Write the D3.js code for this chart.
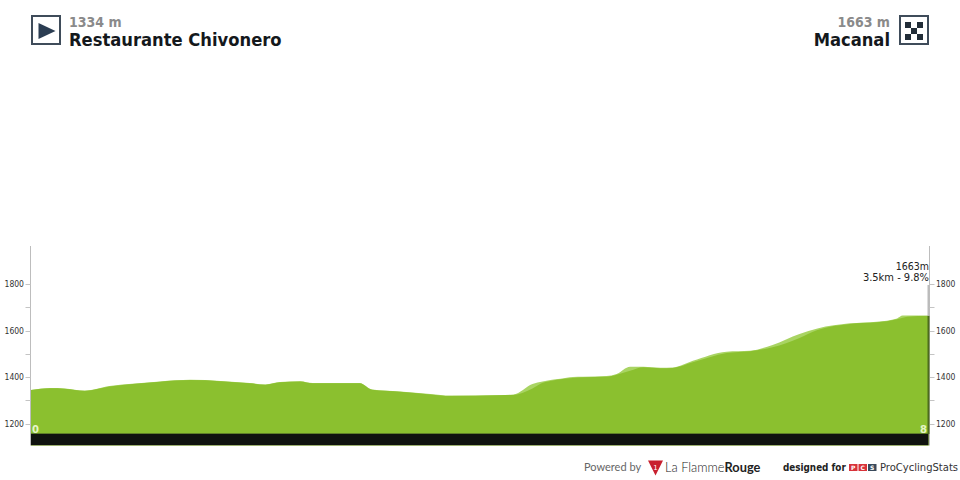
<!DOCTYPE html>
<html><head><meta charset="utf-8">
<script src="https://cdn.jsdelivr.net/npm/d3@7/dist/d3.min.js"></script>
<style>html,body{margin:0;padding:0;background:#fff;overflow:hidden}svg{display:block}</style>
</head><body><svg id="c" width="960" height="480"></svg>
<script>
const kmPoints = [0,.17,.30,.48,.70,.93,1.15,1.42,1.69,1.95,2.09,2.22,2.40,2.51,2.93,3.04,3.29,3.56,3.74,4.18,4.30,4.47,4.56,4.63,4.72,4.83,4.92,5.13,5.22,5.34,5.46,5.61,5.72,5.90,6.20,6.41,6.61,6.85,7.01,7.30,7.54,7.72,7.77,7.81,8];
const elevationRaw = [1344,1353,1351,1341,1361,1372,1381,1388,1383,1374,1368,1378,1382,1374,1374,1346,1338,1327,1320,1323,1325,1370,1381,1387,1392,1400,1401,1404,1413,1444,1444,1440,1441,1470,1509,1513,1538,1585,1609,1631,1638,1652,1664,1664,1663];
const elevationMain = [1344,1352,1350,1341,1359,1371,1380,1387,1382,1373,1367,1377,1381,1373,1373,1345,1337,1325,1318,1322,1323,1351,1375,1383,1390,1396,1399,1401,1410,1427,1442,1438,1439,1463,1503,1511,1528,1568,1602,1628,1635,1648,1655,1659,1663];
const majorTicks = [1200,1400,1600,1800];
const minorTicks = [1300,1500,1700];
const startName = "Restaurante Chivonero", startAlt = "1334 m";
const endName = "Macanal", endAlt = "1663 m";
const distanceEnds = [0,8];
const checker = [[0,0],[2,0],[1,1],[0,2],[2,2]];

const svg = d3.select("#c");
const x = d3.scaleLinear().domain([0,8]).range([31,928.5]);
const y = d3.scaleLinear().domain([1200,1800]).range([423.5,284]);
const yBottom = 445.5, yTop = 246;
const font = "'DejaVu Sans',sans-serif";
const cond = "'DejaVu Sans Condensed','DejaVu Sans',sans-serif";

const area = s => d3.area().x((d,i)=>x(kmPoints[i])).y0(yBottom).y1((d,i)=>y(s[i])).curve(d3.curveMonotoneX)(s);
svg.append("path").attr("d",area(elevationRaw)).attr("fill","#a9d463");
svg.append("path").attr("d",area(elevationMain)).attr("fill","#8bc02f");
svg.append("rect").attr("x",x(0)).attr("width",x(8)-x(0)).attr("y",434).attr("height",11).attr("fill","#10130f");
svg.append("rect").attr("x",x(0)).attr("width",x(8)-x(0)).attr("y",433).attr("height",1).attr("fill","#5f8028");
svg.append("rect").attr("x",x(0)).attr("width",x(8)-x(0)).attr("y",445).attr("height",1).attr("fill","#9db070");

// axes
[[30.5,-1],[929.5,1]].forEach(([px,dir])=>{
  svg.append("line").attr("x1",px).attr("x2",px).attr("y1",yTop).attr("y2",yBottom).attr("stroke","#bdbdbd");
  majorTicks.concat(minorTicks).forEach(t=>{
    const py=Math.round(y(t))+.5;
    svg.append("line").attr("x1",px).attr("x2",px+dir*5).attr("y1",py).attr("y2",py).attr("stroke","#c4c4c4");
  });
  majorTicks.forEach(t=>{
    svg.append("text").attr("x",dir<0?24:936).attr("y",y(t)+3).attr("text-anchor",dir<0?"end":"start")
      .attr("font-family",cond).attr("font-size",8.5).attr("fill","#333").text(t);
  });
});
svg.append("line").attr("x1",928.5).attr("x2",928.5).attr("y1",285).attr("y2",y(1663)).attr("stroke","#bbb").attr("stroke-width",2);
svg.append("line").attr("x1",928.5).attr("x2",928.5).attr("y1",y(1663)).attr("y2",434).attr("stroke","#4d6b1e").attr("stroke-width",2);

svg.append("text").attr("x",32).attr("y",432.5).attr("font-family",font).attr("font-weight","bold").attr("font-size",10).attr("fill","#e6f5c8").text(distanceEnds[0]);
svg.append("text").attr("x",927).attr("y",432.5).attr("text-anchor","end").attr("font-family",font).attr("font-weight","bold").attr("font-size",10).attr("fill","#e6f5c8").text(distanceEnds[1]);

svg.append("text").attr("x",929).attr("y",270).attr("text-anchor","end").attr("font-family",cond).attr("font-size",10.5).attr("fill","#222").text("1663m");
svg.append("text").attr("x",929).attr("y",281).attr("text-anchor","end").attr("font-family",cond).attr("font-size",11).attr("fill","#222").text("3.5km - 9.8%");

// header
svg.append("rect").attr("x",32).attr("y",16).attr("width",28).attr("height",28).attr("fill","#fff").attr("stroke","#3f4c5a").attr("stroke-width",2);
svg.append("path").attr("d","M38.5,23L55.5,31L38.5,39Z").attr("fill","#2b3d52");
svg.append("rect").attr("x",900).attr("y",16).attr("width",28).attr("height",28).attr("fill","#fff").attr("stroke","#3f4c5a").attr("stroke-width",2);
svg.selectAll(".ck").data(checker).join("rect").attr("x",d=>905+d[0]*6).attr("y",d=>22+d[1]*6).attr("width",6).attr("height",6).attr("fill","#222d38");

svg.append("text").attr("x",69).attr("y",27).attr("font-family",cond).attr("font-weight","bold").attr("font-size",14).attr("fill","#8a8a8a").text(startAlt);
svg.append("text").attr("x",69).attr("y",45.5).attr("font-family",cond).attr("font-weight","bold").attr("font-size",18.2).attr("fill","#14181c").text(startName);
svg.append("text").attr("x",890).attr("y",27).attr("text-anchor","end").attr("font-family",cond).attr("font-weight","bold").attr("font-size",14).attr("fill","#8a8a8a").text(endAlt);
svg.append("text").attr("x",890).attr("y",45.5).attr("text-anchor","end").attr("font-family",cond).attr("font-weight","bold").attr("font-size",18.2).attr("fill","#14181c").text(endName);

// footer
svg.append("text").attr("x",584).attr("y",471).attr("font-family","Lato,sans-serif").attr("font-size",11).attr("fill","#666").text("Powered by");
svg.append("path").attr("d","M648,460.5L663,460.5L655.5,475.5Z").attr("fill","#c8202f");
svg.append("text").attr("x",655.5).attr("y",469.5).attr("text-anchor","middle").attr("font-family",font).attr("font-size",7).attr("fill","#fff").text("1");
const lf=svg.append("text").attr("x",665).attr("y",472).attr("font-family","Lato,sans-serif").attr("font-size",12.8).attr("fill","#222");
lf.append("tspan").attr("font-weight","300").text("La Flamme");
lf.append("tspan").attr("font-weight","bold").text("Rouge");
svg.append("text").attr("x",783).attr("y",471).attr("font-family",cond).attr("font-weight","bold").attr("font-size",9.8).attr("fill","#222").text("designed for");
["P","C","S"].forEach((c,i)=>{
  svg.append("rect").attr("x",849+i*9.5).attr("y",464).attr("width",8.5).attr("height",7).attr("fill",i<2?"#d8333a":"#3a4a5c");
  svg.append("text").attr("x",853.2+i*9.5).attr("y",470).attr("text-anchor","middle").attr("font-family",font).attr("font-weight","bold").attr("font-size",6).attr("fill","#fff").text(c);
});
svg.append("text").attr("x",880).attr("y",471).attr("font-family",font).attr("font-size",10).attr("fill","#333").text("ProCyclingStats");
</script></body></html>
